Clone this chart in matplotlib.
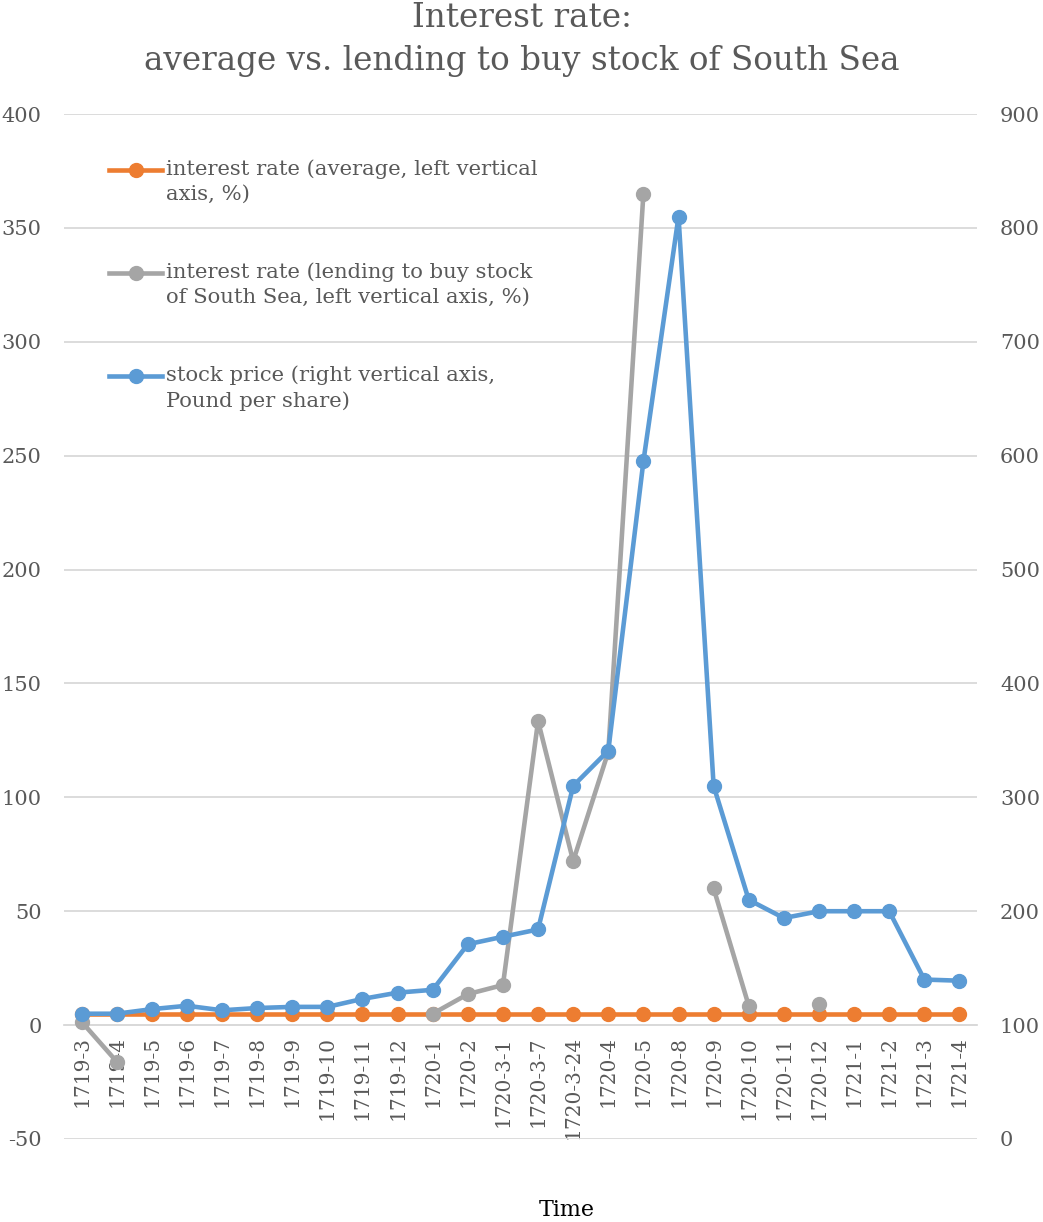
import numpy as np
import matplotlib
matplotlib.use('Agg')
import matplotlib.pyplot as plt
from matplotlib.lines import Line2D

# categories
dates = ['1719-3', '1719-4', '1719-5', '1719-6', '1719-7', '1719-8', '1719-9',
         '1719-10', '1719-11', '1719-12', '1720-1', '1720-2', '1720-3-1',
         '1720-3-7', '1720-3-24', '1720-4', '1720-5', '1720-8', '1720-9',
         '1720-10', '1720-11', '1720-12', '1721-1', '1721-2', '1721-3', '1721-4']
nan = np.nan
# interest rate, average (%)
rate_avg = [5] * 26
# interest rate, lending to buy South Sea stock (%)
rate_lend = [1.5, -16, nan, nan, nan, nan, nan, nan, nan, nan, 5, 13.6, 17.6,
             133.5, 72, 120, 365, nan, 60, 8.5, nan, 9.2, nan, nan, nan, nan]
# stock price (Pound per share)
price = [110, 110, 114, 117, 113, 115, 116, 116, 123, 128.5, 131, 171, 177.6,
         184, 310, 341, 595, 810, 310, 210, 194, 200, 200, 200, 140, 139]

ORANGE = '#ED7D31'
GRAY = '#A5A5A5'
BLUE = '#5B9BD5'
TXT = '#595959'
plt.rcParams['font.family'] = 'DejaVu Serif'
plt.rcParams['axes.unicode_minus'] = False

W, H = 1043, 1222
fig = plt.figure(figsize=(W / 100, H / 100), dpi=100)
ax = fig.add_axes([64 / W, 1 - 1139 / H, (977 - 64) / W, (1139 - 114) / H])
ax2 = ax.twinx()

x = np.arange(len(dates))
lw, ms = 3.3, 10
ax.plot(x, rate_avg, color=ORANGE, lw=lw, marker='o', ms=ms, zorder=3)
ax.plot(x, rate_lend, color=GRAY, lw=lw, marker='o', ms=ms, zorder=4)
ax2.plot(x, price, color=BLUE, lw=lw, marker='o', ms=ms, zorder=5)

ax.set_xlim(-0.5, len(dates) - 0.5)
ax.set_ylim(-50, 400)
ax.set_yticks(np.arange(-50, 401, 50))
ax2.set_ylim(0, 900)
ax2.set_yticks(np.arange(0, 901, 100))

ax.grid(axis='y', color='#D9D9D9', lw=1.3)
ax.set_axisbelow(True)
for a in (ax, ax2):
    for s in a.spines.values():
        s.set_visible(False)
ax.spines['bottom'].set_visible(True)
ax.spines['bottom'].set_position(('data', 0))
ax.spines['bottom'].set_color('#D9D9D9')
ax.spines['bottom'].set_linewidth(1.3)

ax.set_xticks(x)
ax.set_xticklabels(dates, rotation=90)
ax.tick_params(axis='x', length=0, pad=8, labelsize=14.5, labelcolor=TXT)
ax.tick_params(axis='y', length=0, pad=16, labelsize=15, labelcolor=TXT)
ax2.tick_params(axis='y', length=0, pad=16.5, labelsize=15, labelcolor=TXT)

fig.text(522 / W, 1 - 2 / H, 'Interest rate:\naverage vs. lending to buy stock of South Sea',
         ha='center', va='top', fontsize=23.5, color=TXT, linespacing=1.45)
fig.text(567 / W, 1 - 1210 / H, 'Time', ha='center', va='center', fontsize=16, color='#000000')

# legend, drawn by hand so the marker sits on the first text line
labels = ['interest rate (average, left vertical\naxis, %)',
          'interest rate (lending to buy stock\nof South Sea, left vertical axis, %)',
          'stock price (right vertical axis,\nPound per share)']
colors = [ORANGE, GRAY, BLUE]
for i, (lab, c) in enumerate(zip(labels, colors)):
    yy = 1 - (170 + 103 * i) / H
    fig.add_artist(Line2D([109 / W, 162 / W], [yy, yy], color=c, lw=lw,
                          transform=fig.transFigure))
    fig.add_artist(Line2D([136 / W], [yy], color=c, marker='o', ms=ms,
                          transform=fig.transFigure))
    fig.text(166 / W, yy + 11 / H, lab, ha='left', va='top', fontsize=15.2,
             color=TXT, linespacing=1.4)

fig.savefig('out.png', dpi=100)
